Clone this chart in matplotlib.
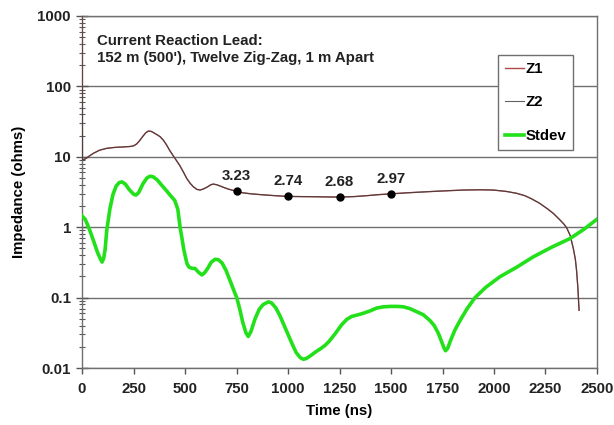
import matplotlib
matplotlib.use("Agg")
from matplotlib import pyplot as plt
from matplotlib.ticker import FixedLocator, FuncFormatter, LogLocator, NullFormatter

plt.rcParams['font.family'] = ['Liberation Sans', 'DejaVu Sans']
plt.rcParams['font.weight'] = 'bold'

# impedance readings, time in ns
z_t = [0, 2, 15, 30, 55, 85, 120, 160, 200, 233, 250, 265, 280, 295, 310, 322, 335, 350, 365,
       379, 395, 410, 425, 443, 460, 476, 493, 508, 525, 540, 557, 573, 590, 610, 625, 637,
       655, 670, 690, 710, 730, 751, 780, 820, 880, 940, 995, 1060, 1123, 1190, 1252, 1320,
       1380, 1440, 1495, 1570, 1650, 1720, 1780, 1851, 1932, 1997, 2060, 2110, 2150, 2180,
       2220, 2260, 2288, 2320, 2340, 2353, 2370, 2385, 2395, 2401, 2407, 2413]
z1 = [1000, 9.0, 9.3, 10.0, 11.2, 12.4, 13.2, 13.6, 13.8, 14.0, 14.3, 15.2, 17.0, 19.5, 22.0,
      23.2, 23.0, 21.8, 20.5, 19.3, 17.2, 14.8, 12.4, 10.3, 8.7, 7.4, 6.0, 4.95, 4.2, 3.76,
      3.45, 3.37, 3.5, 3.75, 4.0, 4.1, 4.0, 3.85, 3.65, 3.48, 3.35, 3.23, 3.08, 2.98, 2.88,
      2.8, 2.74, 2.72, 2.71, 2.69, 2.68, 2.72, 2.8, 2.9, 2.97, 3.07, 3.16, 3.24, 3.3, 3.37,
      3.4, 3.37, 3.22, 3.03, 2.8, 2.55, 2.2, 1.82, 1.57, 1.27, 1.1, 0.98, 0.76, 0.5, 0.35,
      0.24, 0.14, 0.066]
z2 = list(z1)

# standard deviation between the two
s_t = [0, 15, 35, 55, 75, 90, 97, 105, 112, 120, 135, 150, 165, 180, 194, 210, 230, 250, 262,
       275, 295, 315, 330, 345, 365, 385, 410, 430, 450, 465, 476, 485, 493, 500, 510, 520,
       535, 548, 565, 582, 595, 610, 628, 646, 662, 680, 700, 720, 740, 751, 765, 780, 795,
       807, 820, 840, 860, 880, 905, 920, 940, 960, 980, 1000, 1020, 1040, 1060, 1075, 1090,
       1110, 1135, 1160, 1180, 1200, 1230, 1260, 1285, 1309, 1340, 1366, 1400, 1430, 1463,
       1500, 1530, 1560, 1590, 1620, 1657, 1690, 1710, 1730, 1745, 1758, 1765, 1775, 1790,
       1811, 1840, 1870, 1908, 1960, 2029, 2110, 2191, 2280, 2369, 2440, 2500]
stdev = [1.45, 1.3, 0.95, 0.65, 0.44, 0.35, 0.32, 0.36, 0.48, 0.9, 1.8, 2.9, 3.8, 4.3, 4.4,
         4.1, 3.4, 2.95, 2.86, 3.1, 4.1, 5.0, 5.3, 5.2, 4.7, 4.0, 3.3, 2.8, 2.4, 1.8, 1.0,
         0.7, 0.5, 0.4, 0.3, 0.27, 0.26, 0.26, 0.23, 0.21, 0.225, 0.26, 0.32, 0.35, 0.345,
         0.31, 0.24, 0.17, 0.12, 0.1, 0.07, 0.045, 0.032, 0.028, 0.033, 0.05, 0.068, 0.08,
         0.087, 0.084, 0.072, 0.056, 0.041, 0.03, 0.022, 0.0165, 0.014, 0.0133, 0.0137, 0.015,
         0.017, 0.019, 0.021, 0.024, 0.031, 0.041, 0.049, 0.054, 0.057, 0.060, 0.065, 0.071,
         0.074, 0.075, 0.075, 0.074, 0.07, 0.064, 0.057, 0.047, 0.04, 0.031, 0.024, 0.019,
         0.0176, 0.019, 0.025, 0.035, 0.05, 0.07, 0.1, 0.14, 0.198, 0.27, 0.38, 0.52, 0.69,
         0.95, 1.3]

# marked points on Z
mark_t = [750, 1000, 1250, 1500]
mark_v = [3.23, 2.74, 2.68, 2.97]

fs = 10.8

fig = plt.figure(figsize=(6.14, 4.25), dpi=100)
ax = fig.add_axes([0.1336, 0.1341, 0.8387, 0.8283])

ax.plot(z_t, z1, color='#b04848', lw=1.0, label='Z1', zorder=3)
ax.plot(z_t, z2, color='#3a3a3a', lw=0.8, alpha=0.8, label='Z2', zorder=4)
ax.plot(s_t, stdev, color='#22e01a', lw=2.6, label='Stdev', zorder=5, solid_joinstyle='round')
ax.plot(mark_t, mark_v, 'o', color='black', ms=5, zorder=6)
for t, v in zip(mark_t, mark_v):
    ax.annotate('%.2f' % v, (t, v), xytext=(0, 6), textcoords='offset points',
                ha='center', va='bottom', fontsize=fs, fontweight='bold', color='#222222')

ax.set_yscale('log')
ax.set_ylim(0.01, 1000)
ax.set_xlim(0, 2500)
ax.xaxis.set_major_locator(FixedLocator([0, 250, 500, 750, 1000, 1250, 1500, 1750, 2000, 2250, 2500]))
ax.yaxis.set_major_locator(FixedLocator([0.01, 0.1, 1, 10, 100, 1000]))
ax.yaxis.set_major_formatter(FuncFormatter(lambda v, p: '%g' % v))
ax.yaxis.set_minor_locator(LogLocator(base=10, subs=range(2, 10)))
ax.yaxis.set_minor_formatter(NullFormatter())
ax.grid(True, axis='y', which='major', color='#707070', lw=1)

for sp in ax.spines.values():
    sp.set_color('#707070')
    sp.set_linewidth(1)
ax.tick_params(axis='y', which='major', direction='inout', length=8, width=1, color='#555555',
               labelsize=fs, pad=4)
ax.tick_params(axis='y', which='minor', direction='inout', length=5, width=0.8, color='#555555')
ax.tick_params(axis='x', direction='out', length=4, width=1, color='#555555', labelsize=fs, pad=6)
for lab in ax.get_xticklabels() + ax.get_yticklabels():
    lab.set_fontweight('bold')
    lab.set_color('#222222')

ax.set_xlabel('Time (ns)', fontsize=fs, fontweight='bold', labelpad=6)
ax.set_ylabel('Impedance (ohms)', fontsize=fs, fontweight='bold', labelpad=8)

ax.text(0.03, 0.95, "Current Reaction Lead:\n152 m (500'), Twelve Zig-Zag, 1 m Apart",
        transform=ax.transAxes, ha='left', va='top', fontsize=fs, fontweight='bold',
        color='#222222', linespacing=1.35)

leg = ax.legend(loc='upper left', bbox_to_anchor=(0.808, 0.889), fancybox=False, shadow=False,
                prop={'size': fs, 'weight': 'bold'}, handlelength=1.25, handletextpad=0.15,
                labelspacing=1.3, borderpad=0.45, borderaxespad=0, framealpha=1,
                edgecolor='#707070')
leg.get_frame().set_linewidth(1)

plt.savefig('out.png', dpi=100)
